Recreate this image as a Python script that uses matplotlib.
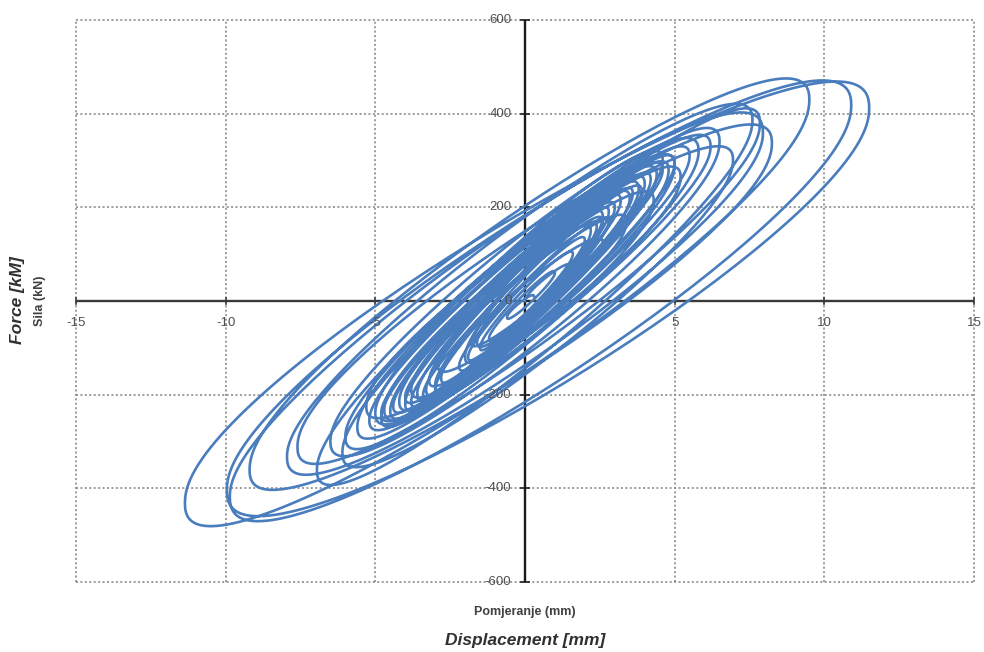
import numpy as np
import matplotlib.pyplot as plt

plt.rcParams['font.family'] = ['Liberation Sans', 'DejaVu Sans']

# displacement (mm) and force (kN) at each load reversal
disp_peaks = [0.0, 1.5, -1.8, 2.6, -2.9, 3.4, -3.8, 4.3, -4.7, 5.2,
              -5.3, 6.95, -6.1, 7.85, -7.6, 8.25, -9.2, 9.5, -11.36, 11.5,
              -9.96, 10.9, -9.86, 7.95, -7.95, 7.6, -6.95, 6.5, -6.5, 5.8,
              -6.0, 5.0, -5.6, 6.2, -5.0, 4.6, -4.8, 5.5, -4.2, 4.8,
              -5.2, 4.0, -4.5, 4.4, -3.6, 5.0, -4.0, 3.8, -4.8, 3.5,
              -3.3, 4.2, -3.8, 3.0, -3.0, 3.6, -4.4, 2.6, -2.0, 4.6,
              -3.2, 3.2, -4.0, 2.2, -2.8, 3.9, -1.6, 2.6, -3.0, 2.8,
              -3.4, 2.4, -2.2, 2.8, -1.9, 2.0, -1.5, 1.6, -1.2, 1.0,
              -0.6, 0.3]
force_peaks = [0, 75, -90, 125, -140, 170, -190, 215, -233, 265,
               -226, 301, -325, 380, -312, 337, -361, 430, -432, 412,
               -404, 418, -418, 359, -333, 386, -361, 340, -300, 320,
               -290, 290, -270, 330, -240, 300, -250, 310, -215, 280,
               -255, 250, -235, 270, -200, 295, -220, 240, -240, 220,
               -190, 260, -215, 200, -180, 230, -225, 180, -120, 280,
               -170, 215, -205, 150, -165, 235, -90, 170, -190, 190,
               -200, 160, -140, 170, -120, 130, -100, 100, -80, 60,
               -35, 10]
# loop opening (kN) of each half-cycle
loop_width = [15, 30, 40, 50, 60, 70, 80, 90, 95, 100,
              115, 125, 135, 145, 150, 160, 175, 190, 205, 200,
              195, 195, 170, 150, 145, 140, 130, 130, 120, 115,
              105, 105, 110, 105, 95, 90, 95, 90, 85, 95,
              85, 80, 85, 75, 80, 80, 75, 80, 75, 65,
              70, 70, 60, 60, 60, 70, 65, 55, 70, 65,
              60, 65, 55, 50, 60, 45, 45, 50, 55, 55,
              50, 45, 45, 40, 35, 30, 30, 25, 20, 15,
              10]

x_ticks = [-15, -10, -5, 5, 10, 15]
y_ticks = [-600, -400, -200, 0, 200, 400, 600]


def hysteresis_trace(disp, force, width, n=90, blunt=0.88):
    # half-cycle between reversals: chord plus a rounded opening
    xs, fs = [], []
    for k in range(len(disp) - 1):
        x0, x1 = disp[k], disp[k + 1]
        f0, f1 = force[k], force[k + 1]
        t = np.linspace(0, np.pi, n)
        x = (x0 + x1) / 2 + (x0 - x1) / 2 * np.cos(t)
        s = (1 - np.cos(t)) / 2
        opening = np.sin(t).clip(0) ** blunt
        f = f0 + (f1 - f0) * s + np.sign(x1 - x0) * width[k] * opening
        xs.append(x)
        fs.append(f)
    return np.concatenate(xs), np.concatenate(fs)


x, f = hysteresis_trace(disp_peaks, force_peaks, loop_width)

fig = plt.figure(figsize=(9.84, 6.52), dpi=100)
ax = fig.add_axes([0.0772, 0.1074, 0.9126, 0.862])
ax.set_xlim(-15, 15)
ax.set_ylim(-600, 600)
for s in ax.spines.values():
    s.set_visible(False)
ax.set_xticks([])
ax.set_yticks([])

grid_kw = dict(color='#808080', lw=1.1, ls=(0, (1.3, 1.6)), clip_on=False, zorder=1)
for v in x_ticks:
    ax.axvline(v, **grid_kw)
for v in y_ticks:
    if v != 0:
        ax.axhline(v, **grid_kw)

ax.axhline(0, color='#3a3a3a', lw=1.7, zorder=2)
ax.axvline(0, color='#1a1a1a', lw=1.7, zorder=2)

ax.plot(x, f, color='#4a7dbd', lw=1.9, zorder=3)

lab_kw = dict(color='#505050', fontsize=9.5)
for v in y_ticks:
    ax.text(-0.45, v, str(v), ha='right', va='center', zorder=4, **lab_kw)
    ax.plot([-0.12, 0.12], [v, v], color='#1a1a1a', lw=1.2, clip_on=False, zorder=2)
for v in x_ticks:
    ax.text(v, -34, str(v), ha='center', va='top', zorder=4, **lab_kw)
    ax.plot([v, v], [-6, 6], color='#3a3a3a', lw=1.2, clip_on=False, zorder=2)

fig.text(0.5335, 0.061, 'Pomjeranje (mm)', ha='center', va='center',
         fontsize=9, fontweight='bold', color='#404040')
fig.text(0.5335, 0.018, 'Displacement [mm]', ha='center', va='center',
         fontsize=12.5, fontweight='bold', style='italic', color='#303030')
fig.text(0.041, 0.538, 'Sila (kN)', ha='center', va='center', rotation=90,
         fontsize=9, fontweight='bold', color='#404040')
fig.text(0.018, 0.54, 'Force [kM]', ha='center', va='center', rotation=90,
         fontsize=12.5, fontweight='bold', style='italic', color='#303030')

fig.savefig('out.png', dpi=100)
